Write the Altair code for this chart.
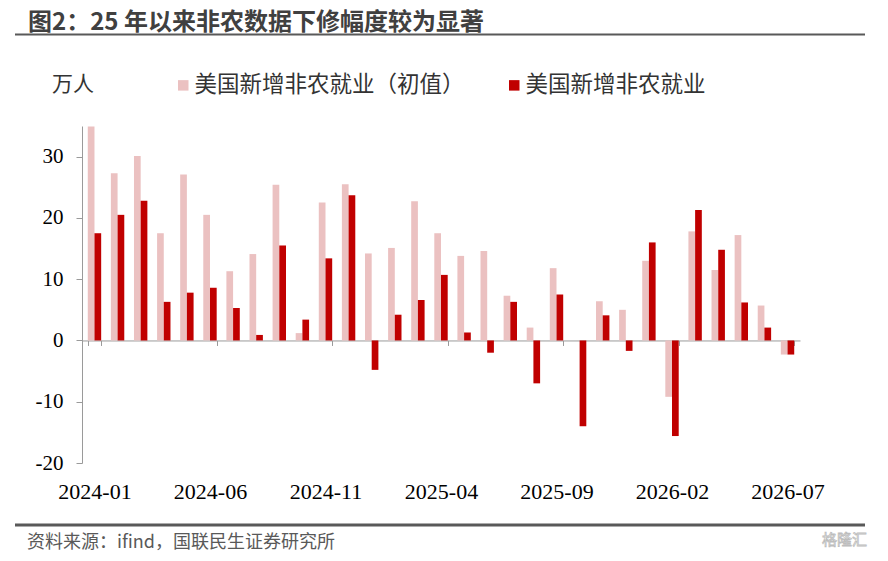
import altair as alt
import pandas as pd

# months on the x axis
months = [
    '2024-01', '2024-02', '2024-03', '2024-04', '2024-05', '2024-06',
    '2024-07', '2024-08', '2024-09', '2024-10', '2024-11', '2024-12',
    '2025-01', '2025-02', '2025-03', '2025-04', '2025-05', '2025-06',
    '2025-07', '2025-08', '2025-09', '2025-10', '2025-11', '2025-12',
    '2026-01', '2026-02', '2026-03', '2026-04', '2026-05', '2026-06',
    '2026-07',
]
# 美国新增非农就业（初值）, 万人 (no initial print for 2025-10)
initial = [34.9, 27.3, 30.1, 17.5, 27.1, 20.5, 11.3, 14.1, 25.4, 1.2, 22.5, 25.5,
           14.2, 15.1, 22.7, 17.5, 13.8, 14.6, 7.3, 2.1, 11.8, None, 6.4, 5.0,
           13.0, -9.2, 17.8, 11.5, 17.2, 5.7, -2.3]
# 美国新增非农就业 (revised), 万人
revised = [17.5, 20.5, 22.8, 6.3, 7.8, 8.6, 5.3, 0.9, 15.5, 3.4, 13.4, 23.7,
           -4.8, 4.2, 6.6, 10.7, 1.3, -2.0, 6.3, -7.0, 7.5, -14.0, 4.1, -1.7,
           16.0, -15.6, 21.3, 14.8, 6.2, 2.1, -2.3]
series = ['美国新增非农就业（初值）', '美国新增非农就业']
tick_months = months[::5]
y_ticks = [-20, -10, 0, 10, 20, 30]

rows = []
for m, a, b in zip(months, initial, revised):
    if a is not None:
        rows.append({'month': m, 'series': series[0], 'value': a})
    rows.append({'month': m, 'series': series[1], 'value': b})
df = pd.DataFrame(rows)

W, H = 718, 337
zero_px = H * 35 / 55

SERIF = 'Liberation Serif'
SANS = 'Noto Sans CJK SC'

bars = alt.Chart(df).mark_bar().encode(
    x=alt.X('month:O', sort=months, title=None,
            scale=alt.Scale(paddingInner=0.42, paddingOuter=0.25),
            axis=alt.Axis(values=tick_months, labelAngle=0, offset=-(H - zero_px),
                          tickBand='extent', tickExtra=False, tickSize=5,
                          labelPadding=153, labelBaseline='alphabetic',
                          labelFont=SERIF, labelFontSize=22, labelColor='#000',
                          domainColor='#9a9a9a', tickColor='#9a9a9a')),
    xOffset=alt.XOffset('series:N', sort=series),
    y=alt.Y('value:Q', title=None,
            scale=alt.Scale(domain=[-20, 35], nice=False),
            axis=alt.Axis(values=y_ticks, grid=False, tickSize=6, labelPadding=13,
                          labelExpr="'' + datum.value",
                          labelFont=SERIF, labelFontSize=21, labelColor='#000',
                          domainColor='#9a9a9a', tickColor='#9a9a9a')),
    color=alt.Color('series:N', sort=series,
                    scale=alt.Scale(domain=series, range=['#EBC1C1', '#C00000']),
                    legend=alt.Legend(title=None, orient='none', legendX=90, legendY=-52,
                                      direction='horizontal', symbolType='square',
                                      symbolSize=110, symbolStrokeWidth=0,
                                      labelFont=SANS, labelFontSize=22.5, labelColor='#333',
                                      labelOffset=0, labelLimit=400, columnPadding=38)),
)

one = pd.DataFrame({'t': ['']})


def note(text, x, y, size, weight='normal', color='#333', font=SANS):
    return alt.Chart(pd.DataFrame({'t': [text]})).mark_text(
        align='left', baseline='alphabetic', fontSize=size, fontWeight=weight,
        color=color, font=font
    ).encode(text='t:N', x=alt.value(x), y=alt.value(y))


def hline(y, x1, x2, width, color='#595959'):
    return alt.Chart(one).mark_rule(color=color, strokeWidth=width).encode(
        x=alt.value(x1), x2=alt.value(x2), y=alt.value(y))


title = note('图2：25 年以来非农数据下修幅度较为显著', -54, -96, 24, 'bold', '#404040')
unit = note('万人', -30, -35, 21)
source = note('资料来源：ifind，国联民生证券研究所', -55, 422, 18, 'normal', '#595959')
mark = alt.Chart(pd.DataFrame({'t': ['格隆汇']})).mark_text(
    align='left', baseline='alphabetic', fontSize=15, font=SANS,
    fill='#ffffff', stroke='#bdbdbd', strokeWidth=0.8
).encode(text='t:N', x=alt.value(740), y=alt.value(419))

chart = alt.layer(
    bars, title, unit, source, mark,
    hline(-91.5, -67, 783, 2), hline(399, -67, 783, 3),
).properties(
    width=W, height=H,
    padding={'left': 74, 'top': 118, 'right': 80, 'bottom': 90},
    autosize=alt.AutoSizeParams(type='none'),
).configure_view(stroke=None)

chart.save('out.html', embed_options={'renderer': 'svg', 'actions': False})
